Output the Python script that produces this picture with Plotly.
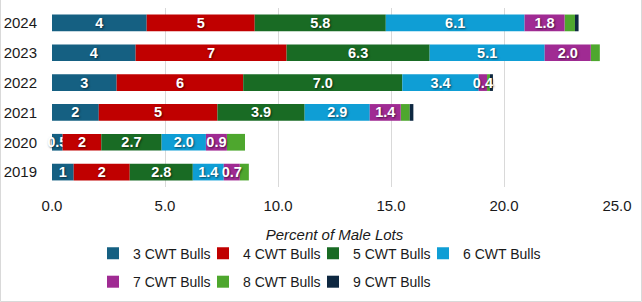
import numpy as np
import plotly.graph_objects as go

years = ["2019", "2020", "2021", "2022", "2023", "2024"]
series_names = ["3 CWT Bulls", "4 CWT Bulls", "5 CWT Bulls", "6 CWT Bulls",
                "7 CWT Bulls", "8 CWT Bulls", "9 CWT Bulls"]
cwt3 = [0.96, 0.47, 2.07, 2.86, 3.70, 4.19]
cwt4 = [2.48, 1.71, 5.25, 5.60, 6.68, 4.78]
cwt5 = [2.79, 2.67, 3.86, 7.04, 6.33, 5.80]
cwt6 = [1.37, 1.96, 2.88, 3.38, 5.09, 6.14]
cwt7 = [0.71, 0.93, 1.37, 0.37, 2.04, 1.77]
cwt8 = [0.40, 0.80, 0.40, 0.13, 0.40, 0.46]
cwt9 = [0.00, 0.00, 0.16, 0.13, 0.00, 0.16]
x_ticks = [0, 5, 10, 15, 20, 25]

colors = ["#156082", "#C00000", "#196B24", "#0F9ED5", "#A02B93", "#4EA72E", "#0E2841"]
label_fmt = ["%{x:.1r}", "%{x:.1r}", "%{x:.1f}", "%{x:.1f}", "%{x:.1f}", "", ""]
legend_ref = ["legend", "legend", "legend", "legend", "legend2", "legend2", "legend2"]
last_in_row = [False, False, False, True, False, False, True]
values = [cwt3, cwt4, cwt5, cwt6, cwt7, cwt8, cwt9]

# stacked bases (cumulative sums of the series before each one)
stack = np.array(values, dtype=float)
bases = np.vstack([np.zeros(stack.shape[1]), np.cumsum(stack, axis=0)[:-1]])

FONT = "Liberation Sans, Arial, sans-serif"
ENTRY_W = 65

# draw unlabeled thin segments first so labels of the others stay on top
draw_order = [5, 6, 0, 1, 2, 3, 4]

fig = go.Figure()
for i in draw_order:
    fig.add_trace(go.Bar(
        y=years, x=values[i], base=bases[i], name=series_names[i], orientation="h",
        marker=dict(color=colors[i], line=dict(width=0)),
        texttemplate=label_fmt[i], textposition="inside", insidetextanchor="middle",
        constraintext="none", textangle=0, cliponaxis=False,
        textfont=dict(family=FONT, size=14.5, color="white", weight="bold",
                      shadow="1px 1px 2px rgba(0,0,0,0.55)"),
        legend=legend_ref[i], legendrank=i + 1,
        legendwidth=(95 if last_in_row[i] else ENTRY_W),
        hovertemplate=series_names[i] + ": %{x}<extra></extra>",
    ))

# layout geometry (pixels)
W, H = 642, 302
ML, MR, MT, MB = 52, 25, 8, 115
PW, PH = W - ML - MR, H - MT - MB


def px_x(px):
    return (px - ML) / PW


def px_y(py):
    return (H - MB - py) / PH


legend_common = dict(
    orientation="h", xanchor="left", yanchor="top", traceorder="normal",
    font=dict(size=14, color="#1a1a1a"), entrywidth=ENTRY_W, entrywidthmode="pixels",
    bgcolor="rgba(0,0,0,0)", borderwidth=0,
)

fig.update_layout(
    width=W, height=H,
    margin=dict(l=ML, r=MR, t=MT, b=MB, autoexpand=False),
    barmode="overlay", bargap=0.44,
    plot_bgcolor="white", paper_bgcolor="white",
    font=dict(family=FONT, size=15, color="#1a1a1a"),
    xaxis=dict(
        range=[0, 25], tickvals=x_ticks, tickformat=".1f",
        showgrid=True, gridcolor="#d9d9d9", gridwidth=1,
        zeroline=False, showline=False, ticks="",
        tickfont=dict(size=15, color="#1a1a1a"),
        ticklabelstandoff=8,
        title=dict(text="Percent of Male Lots",
                   font=dict(size=15, style="italic", color="#1a1a1a"),
                   standoff=16),
        fixedrange=True,
    ),
    yaxis=dict(
        categoryorder="array", categoryarray=years,
        showgrid=False, zeroline=False, showline=False, ticks="",
        tickfont=dict(size=15, color="#1a1a1a"),
        ticklabelstandoff=14,
        fixedrange=True,
    ),
    legend=dict(x=px_x(93), y=px_y(237.7), **legend_common),
    legend2=dict(x=px_x(93), y=px_y(266.1), **legend_common),
    shapes=[dict(type="rect", xref="paper", yref="paper",
                 x0=px_x(0.5), x1=px_x(641.5), y0=px_y(301.5), y1=px_y(-5),
                 line=dict(color="#d9d9d9", width=1), fillcolor="rgba(0,0,0,0)",
                 layer="below")],
    showlegend=True,
)

fig.write_html("out.html")
